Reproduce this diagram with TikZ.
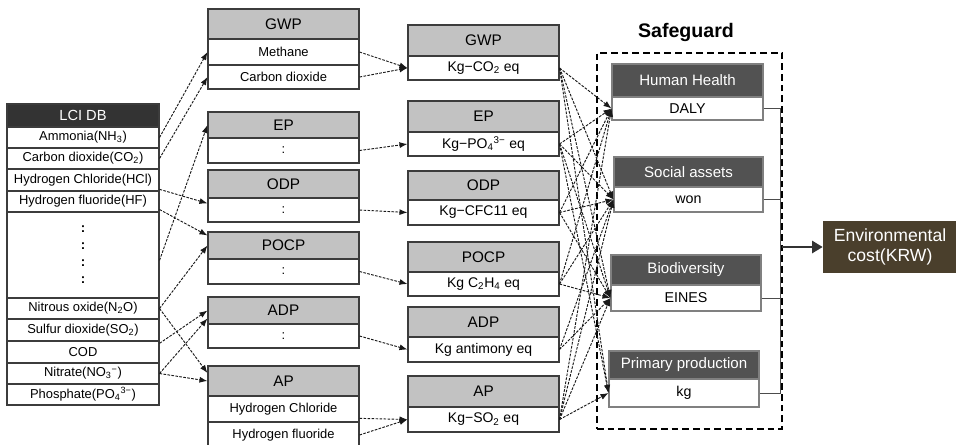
\documentclass[tikz,border=0pt]{standalone}
\usepackage{fontspec}
\setmainfont{Liberation Sans}
\usetikzlibrary{arrows.meta}
\definecolor{hdrdark}{HTML}{333333}
\definecolor{hdrlight}{HTML}{C2C2C2}
\definecolor{hdrsafe}{HTML}{525252}
\definecolor{edge}{HTML}{3C3C3C}
\definecolor{envfill}{HTML}{4A3F2C}

\begin{document}
\begin{tikzpicture}[x=0.75pt,y=-0.75pt,
  box/.style 2 args={minimum width=#1*0.75pt, minimum height=#2*0.75pt},
  cell/.style={draw=edge, line width=0.8pt, rectangle, inner sep=0pt, fill=white,
    font=\fontsize{9.7}{11}\selectfont},
  lcihead/.style={cell, fill=hdrdark, text=white, font=\fontsize{11}{13}\selectfont},
  cathead/.style={cell, fill=hdrlight, font=\fontsize{11.5}{13}\selectfont},
  unitrow/.style={cell, font=\fontsize{10.5}{12}\selectfont},
  safehead/.style={cell, draw=gray, fill=hdrsafe, text=white, font=\fontsize{11.3}{13}\selectfont},
  saferow/.style={cell, draw=gray, font=\fontsize{10.7}{12}\selectfont},
  link/.style={draw=black!90, line width=0.7pt, dash pattern=on 2pt off 1pt,
    -{Latex[length=6pt,width=4.5pt]}},
  bus/.style={draw=black!70, line width=0.6pt},
]
\useasboundingbox (0,0) rectangle (956,444);

% ---- inventory table ----
\node[lcihead, box={152}{23}] (lci) at (83,115.5) {LCI DB};
\node[cell, box={152}{21}] (am)  at (83,137.5) {Ammonia(NH\textsubscript{3})};
\node[cell, box={152}{21}] (co)  at (83,158.5) {Carbon dioxide(CO\textsubscript{2})};
\node[cell, box={152}{22}] (hcl) at (83,180)   {Hydrogen Chloride(HCl)};
\node[cell, box={152}{21}] (hf)  at (83,201.5) {Hydrogen fluoride(HF)};
\node[cell, box={152}{86}, align=center, font=\bfseries\fontsize{10}{12.75}\selectfont]
  (dots) at (83,255) {{:}\\{:}\\{:}\\{:}};
\node[cell, box={152}{21}] (n2o) at (83,308.5) {Nitrous oxide(N\textsubscript{2}O)};
\node[cell, box={152}{22}] (so2) at (83,330)   {Sulfur dioxide(SO\textsubscript{2})};
\node[cell, box={152}{22}] (cod) at (83,352)   {COD};
\node[cell, box={152}{21}] (no3) at (83,373.5) {Nitrate(NO\textsubscript{3}\textsuperscript{−})};
\node[cell, box={152}{21}] (po4) at (83,394.5) {Phosphate(PO\textsubscript{4}\textsuperscript{3−})};

% ---- impact categories with substances ----
\node[cathead, box={151}{30}] (gwp1)  at (283.5,24)    {GWP};
\node[cell,    box={151}{26}] (meth)  at (283.5,52)    {Methane};
\node[cell,    box={151}{24}] (cdx)   at (283.5,77)    {Carbon dioxide};
\node[cathead, box={151}{26}] (ep1)   at (283.5,125)   {EP};
\node[cell,    box={151}{25}] (ep1r)  at (283.5,150.5) {:};
\node[cathead, box={151}{28}] (odp1)  at (283.5,184)   {ODP};
\node[cell,    box={151}{24}] (odp1r) at (283.5,210)   {:};
\node[cathead, box={151}{27}] (pocp1) at (283.5,245.5) {POCP};
\node[cell,    box={151}{25}] (pocp1r)at (283.5,271.5) {:};
\node[cathead, box={151}{27}] (adp1)  at (283.5,310.5) {ADP};
\node[cell,    box={151}{24}] (adp1r) at (283.5,336)   {:};
\node[cathead, box={151}{30}] (ap1)   at (283.5,381)   {AP};
\node[cell,    box={151}{26}] (ap1a)  at (283.5,409)   {Hydrogen Chloride};
\node[cell,    box={151}{26}] (ap1b)  at (283.5,435)   {Hydrogen fluoride};

% ---- impact categories with units ----
\node[cathead, box={151}{31}] (gwp2)   at (483.5,40.5)  {GWP};
\node[unitrow, box={151}{24}] (gwp2r)  at (483.5,68)    {Kg−CO\textsubscript{2} eq};
\node[cathead, box={151}{31}] (ep2)    at (483.5,116.5) {EP};
\node[unitrow, box={151}{24}] (ep2r)   at (483.5,144)   {Kg−PO\textsubscript{4}\textsuperscript{3−} eq};
\node[cathead, box={151}{29}] (odp2)   at (483.5,185.5) {ODP};
\node[unitrow, box={151}{25}] (odp2r)  at (483.5,212.5) {Kg−CFC11 eq};
\node[cathead, box={151}{30}] (pocp2)  at (483.5,257)   {POCP};
\node[unitrow, box={151}{24}] (pocp2r) at (483.5,284)   {Kg C\textsubscript{2}H\textsubscript{4} eq};
\node[cathead, box={151}{30}] (adp2)   at (483.5,322)   {ADP};
\node[unitrow, box={151}{25}] (adp2r)  at (483.5,349.5) {Kg antimony eq};
\node[cathead, box={151}{31}] (ap2)    at (483.5,391.5) {AP};
\node[unitrow, box={151}{25}] (ap2r)   at (483.5,419.5) {Kg−SO\textsubscript{2} eq};

% ---- safeguard subjects ----
\node[font=\bfseries\fontsize{14.7}{16}\selectfont] (safelabel) at (686,32) {Safeguard};
\node[draw, line width=1.8pt, dash pattern=on 5pt off 3pt, inner sep=0pt,
  box={185}{376}] (safe) at (689.5,241) {};
\node[safehead, box={151}{33}] (hh)    at (687.5,80.5)  {Human Health};
\node[saferow,  box={151}{23}] (daly)  at (687.5,108.5) {DALY};
\node[safehead, box={149}{30}] (sa)    at (688.5,172)   {Social assets};
\node[saferow,  box={149}{25}] (won)   at (688.5,199.5) {won};
\node[safehead, box={150}{30}] (bio)   at (686,270)     {Biodiversity};
\node[saferow,  box={150}{26}] (eines) at (686,298)     {EINES};
\node[safehead, box={150}{28}] (pp)    at (684,365)     {Primary production};
\node[saferow,  box={150}{28}] (kg)    at (684,393)     {kg};

% ---- environmental cost ----
\node[fill=envfill, text=white, align=center, inner sep=0pt,
  font=\fontsize{13.2}{15}\selectfont, box={134}{52}] (env) at (890,247)
  {Environmental\\cost(KRW)};

% ---- inventory to categories ----
\draw[link] (am.east) -- (meth.west);
\draw[link] (co.east) -- (cdx.west);
\draw[link] ([yshift=-7pt]hcl.east) -- ([yshift=5pt]odp1r.west);
\draw[link] ([yshift=-6pt]hf.east) -- ([yshift=-3pt]pocp1.north west);
\draw[link] ([yshift=-4pt]dots.east) -- (ep1.west);
\draw[link] (n2o.east) -- (pocp1.west);
\draw[link] (n2o.east) -- ([yshift=6pt]ap1.west);
\draw[link] ([yshift=6.5pt]cod.east) -- (adp1.west);
\draw[link] (no3.east) -- ([yshift=-6pt]adp1.west);
\draw[link] (no3.east) -- (ap1.west);

% ---- categories to characterisation units ----
\draw[link] (meth.east) -- (gwp2r.west);
\draw[link] (cdx.east) -- (gwp2r.west);
\draw[link] (ep1r.east) -- (ep2r.west);
\draw[link] (odp1r.east) -- (odp2r.west);
\draw[link] (pocp1r.east) -- (pocp2r.west);
\draw[link] (adp1r.east) -- (adp2r.west);
\draw[link] ([yshift=-7pt]ap1a.east) -- (ap2r.west);
\draw[link] (ap1b.east) -- (ap2r.west);

% ---- units to safeguard subjects ----
\foreach \s/\t in {gwp2r/daly, gwp2r/won, gwp2r/eines, gwp2r/kg,
                   ep2r/daly, ep2r/won, ep2r/eines, ep2r/kg,
                   odp2r/daly, odp2r/won, odp2r/eines,
                   pocp2r/daly, pocp2r/won, pocp2r/eines,
                   adp2r/won, adp2r/eines,
                   ap2r/daly, ap2r/won, ap2r/eines, ap2r/kg}
  \draw[link] (\s.east) -- (\t.west);

% ---- collecting bus and result arrow ----
\coordinate (b1) at (780,108.5);
\coordinate (b2) at (780,199.5);
\coordinate (b3) at (780,298);
\coordinate (b4) at (780,393);
\coordinate (envfrom) at (782,247);
\draw[bus] (daly.east) -- (b1) -- (b4) -- (kg.east);
\draw[bus] (won.east) -- (b2);
\draw[bus] (eines.east) -- (b3);
\draw[line width=2.2pt, draw=black!80, -{Triangle[length=8pt,width=9pt]}]
  (envfrom) -- (env.west);
\end{tikzpicture}
\end{document}
